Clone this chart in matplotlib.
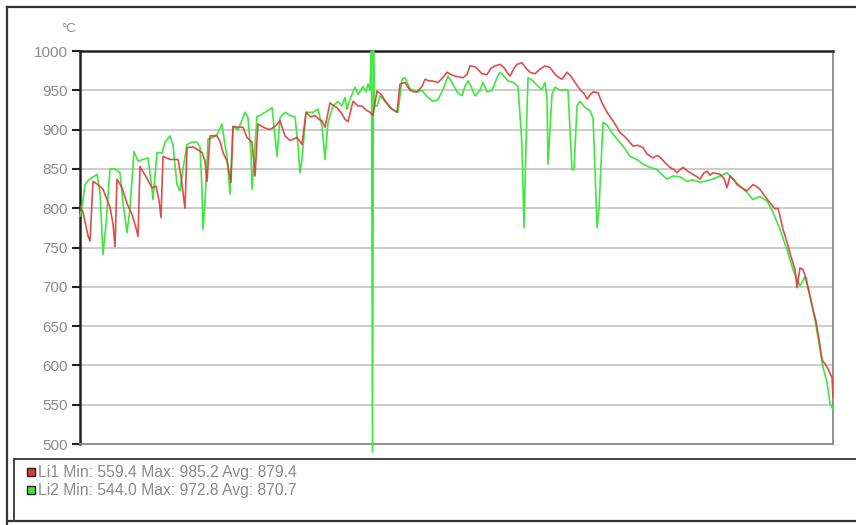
"""
Temperature log of two sensors (Li1, Li2) in °C.
"""

import matplotlib
matplotlib.use("Agg")
import matplotlib.pyplot as plt
from matplotlib.patches import Rectangle
from matplotlib.lines import Line2D

# Li1 (red): (sample index, temperature)
li1_points = [
    (0, 803), (3, 795), (8, 765), (10, 758), (13, 834), (18, 830), (23, 824), (30, 801),
    (33, 780), (35, 751), (37, 837), (42, 826), (47, 806), (52, 792), (56, 775), (58, 764),
    (60, 853), (66, 840), (72, 826), (76, 828), (79, 810), (81, 788), (83, 866), (90, 862),
    (98, 862), (101, 840), (105, 800), (107, 877), (113, 878), (117, 875), (122, 871),
    (125, 860), (127, 834), (130, 892), (137, 892), (140, 885), (143, 871), (147, 860),
    (151, 833), (153, 904), (158, 903), (163, 903), (167, 890), (172, 884), (175, 841),
    (178, 907), (185, 902), (190, 900), (195, 904), (200, 911), (205, 892), (210, 886),
    (217, 890), (220, 885), (222, 881), (226, 922), (231, 916), (235, 918), (239, 913),
    (242, 911), (245, 903), (250, 934), (254, 930), (257, 928), (262, 920), (265, 913),
    (268, 910), (273, 936), (278, 930), (282, 930), (286, 925), (290, 922), (293, 918),
    (297, 949), (301, 945), (306, 935), (312, 926), (317, 922), (320, 958), (325, 960),
    (330, 950), (334, 948), (337, 948), (342, 955), (345, 964), (349, 962), (352, 962),
    (358, 960), (362, 965), (367, 973), (371, 970), (375, 968), (379, 967), (383, 966),
    (387, 970), (390, 981), (395, 980), (399, 975), (402, 971), (407, 970), (411, 978),
    (415, 981), (420, 983), (424, 979), (427, 973), (430, 968), (434, 978), (437, 983),
    (442, 985.2), (446, 978), (450, 973), (455, 971), (460, 977), (465, 981), (470, 979),
    (474, 972), (477, 968), (482, 964), (487, 973), (491, 968), (495, 960), (500, 951),
    (504, 946), (507, 939), (510, 944), (513, 948), (518, 947), (522, 934), (527, 922),
    (533, 911), (537, 903), (540, 896), (544, 892), (547, 888), (553, 879), (558, 880),
    (563, 877), (567, 869), (573, 864), (577, 867), (580, 865), (585, 858), (590, 852),
    (594, 849), (597, 845), (600, 849), (603, 852), (608, 847), (613, 843), (617, 840),
    (620, 837), (624, 845), (627, 847), (630, 842), (633, 845), (637, 844), (640, 843),
    (644, 838), (647, 826), (650, 841), (654, 836), (657, 830), (662, 826), (667, 822),
    (670, 826), (673, 830), (676, 828), (680, 824), (685, 815), (690, 807), (693, 802),
    (695, 799), (698, 800), (700, 790), (703, 773), (707, 757), (710, 743), (713, 730),
    (715, 722), (717, 699), (720, 724), (723, 722), (726, 711), (728, 700), (731, 683),
    (733, 671), (736, 656), (738, 641), (740, 625), (742, 607), (745, 602), (747, 598),
    (750, 590), (752, 585), (753, 559.4),
]

# Li2 (green): (sample index, temperature)
li2_points = [
    (0, 790), (2, 801), (5, 830), (8, 835), (12, 839), (17, 843), (20, 820), (23, 741),
    (26, 780), (30, 850), (35, 850), (40, 845), (43, 807), (47, 769), (50, 800), (54, 872),
    (58, 860), (63, 862), (68, 864), (72, 824), (73, 811), (77, 871), (82, 870), (85, 884),
    (90, 892), (93, 880), (97, 830), (100, 822), (103, 850), (107, 881), (112, 884),
    (117, 884), (120, 878), (122, 824), (123, 773), (125, 807), (128, 888), (133, 890),
    (137, 894), (142, 907), (145, 880), (147, 866), (150, 818), (153, 904), (158, 900),
    (162, 912), (165, 922), (168, 915), (171, 870), (172, 824), (174, 860), (177, 917),
    (180, 918), (185, 922), (190, 926), (192, 928), (195, 892), (197, 866), (200, 915),
    (205, 922), (210, 918), (215, 916), (218, 880), (220, 845), (222, 862), (226, 922),
    (233, 922), (238, 926), (242, 904), (245, 862), (248, 909), (253, 930), (258, 936),
    (262, 930), (265, 941), (267, 926), (270, 939), (275, 954), (278, 945), (281, 950),
    (283, 955), (286, 948), (288, 958), (290, 950), (291.5, 1000), (292.5, 490),
    (293.5, 1000), (294.5, 930), (297, 930), (300, 943), (305, 936), (310, 928), (315, 924),
    (318, 922), (322, 964),
    (325, 966), (330, 952), (334, 950), (338, 948), (342, 950), (345, 945), (348, 941),
    (353, 936), (358, 938), (363, 951), (368, 968), (372, 960), (377, 948), (382, 943),
    (385, 955), (388, 962), (391, 955), (395, 943), (400, 950), (403, 960), (407, 948),
    (412, 950), (417, 966), (420, 972.8), (424, 968), (428, 962), (433, 960), (438, 955),
    (441, 900), (442, 879), (444, 775), (446, 880), (448, 966), (453, 962), (458, 955),
    (462, 951), (465, 960), (467, 940), (468, 856), (470, 900), (472, 945), (475, 954),
    (480, 950), (485, 951), (488, 950), (490, 900), (492, 849), (494, 849), (497, 930),
    (500, 936), (505, 928), (510, 924), (513, 915), (515, 850), (517, 775), (519, 800),
    (523, 909), (527, 906), (532, 896), (537, 888), (543, 879), (550, 866), (557, 862),
    (563, 856), (570, 852), (577, 849), (580, 845), (587, 837), (593, 841), (600, 840),
    (607, 834), (613, 836), (620, 833), (627, 835), (633, 837), (640, 841), (647, 845),
    (653, 837), (660, 828), (667, 820), (673, 811), (680, 815), (687, 809), (693, 795),
    (700, 773), (707, 747), (713, 722), (720, 701), (725, 713), (730, 688), (735, 658),
    (740, 620), (743, 598), (747, 578), (750, 552), (753, 544.0),
]

t_li1 = [p[0] for p in li1_points]
li1 = [p[1] for p in li1_points]
t_li2 = [p[0] for p in li2_points]
li2 = [p[1] for p in li2_points]

y_ticks = [500, 550, 600, 650, 700, 750, 800, 850, 900, 950, 1000]
legend_labels = ["Li1 Min: 559.4 Max: 985.2 Avg: 879.4",
                 "Li2 Min: 544.0 Max: 972.8 Avg: 870.7"]
colors = ["#dc3b3b", "#3ee83e"]

W, H = 856, 525


def px(x, y):
    """pixel (from top-left) -> figure fraction"""
    return x / W, 1 - y / H


def main():
    plt.rcParams['font.family'] = ['Liberation Sans', 'DejaVu Sans']
    fig = plt.figure(figsize=(W / 100, H / 100), dpi=100)
    fig.patch.set_facecolor("white")

    # plot area
    x0, y0 = px(80, 444)
    x1, y1 = px(833, 51)
    ax = fig.add_axes([x0, y0, x1 - x0, y1 - y0])

    ax.plot(t_li2, li2, color=colors[1], lw=1.2, clip_on=False, zorder=3)
    ax.plot(t_li1, li1, color=colors[0], lw=1.2, alpha=0.9, zorder=4)

    ax.set_xlim(0, 753)
    ax.set_ylim(500, 1000)
    ax.set_yticks(y_ticks)
    ax.set_xticks([])
    ax.yaxis.grid(True, color="#c4c4c4", lw=1.2)
    ax.set_axisbelow(True)
    ax.tick_params(axis="y", length=6, width=1.5, color="#222222",
                   labelcolor="#8a8a8a", labelsize=11, pad=3)

    ax.spines["left"].set_color("#222222")
    ax.spines["left"].set_linewidth(1.8)
    ax.spines["top"].set_color("#222222")
    ax.spines["top"].set_linewidth(1.8)
    ax.spines["right"].set_color("#8a8a8a")
    ax.spines["right"].set_linewidth(1.3)
    ax.spines["bottom"].set_color("#8a8a8a")
    ax.spines["bottom"].set_linewidth(1.3)

    # unit label
    fig.text(*px(69, 29), "°C", ha="center", va="center", color="#8a8a8a", fontsize=9.5)

    # outer frame (cropped on the right)
    for (xa, ya), (xb, yb) in [((7, 7), (W, 7)), ((7, 7), (7, H)), ((7, 521), (W, 521))]:
        fig.add_artist(Line2D([xa / W, xb / W], [1 - ya / H, 1 - yb / H],
                              color="#333333", lw=1.6))

    # legend box
    for (xa, ya), (xb, yb) in [((14, 459), (W, 459)), ((14, 459), (14, 521))]:
        fig.add_artist(Line2D([xa / W, xb / W], [1 - ya / H, 1 - yb / H],
                              color="#444444", lw=1.4))

    for i, (lab, c) in enumerate(zip(legend_labels, colors)):
        yc = 472 + i * 18
        sx, sy = px(27, yc + 4)
        fig.add_artist(Rectangle((sx, sy), 8 / W, 8 / H, facecolor=c,
                                 edgecolor="#222222", lw=1.0, transform=fig.transFigure))
        fig.text(*px(38, yc), lab, ha="left", va="center", color="#8a8a8a", fontsize=11.3)

    fig.savefig("out.png", dpi=100)
    plt.close(fig)


if __name__ == "__main__":
    main()
